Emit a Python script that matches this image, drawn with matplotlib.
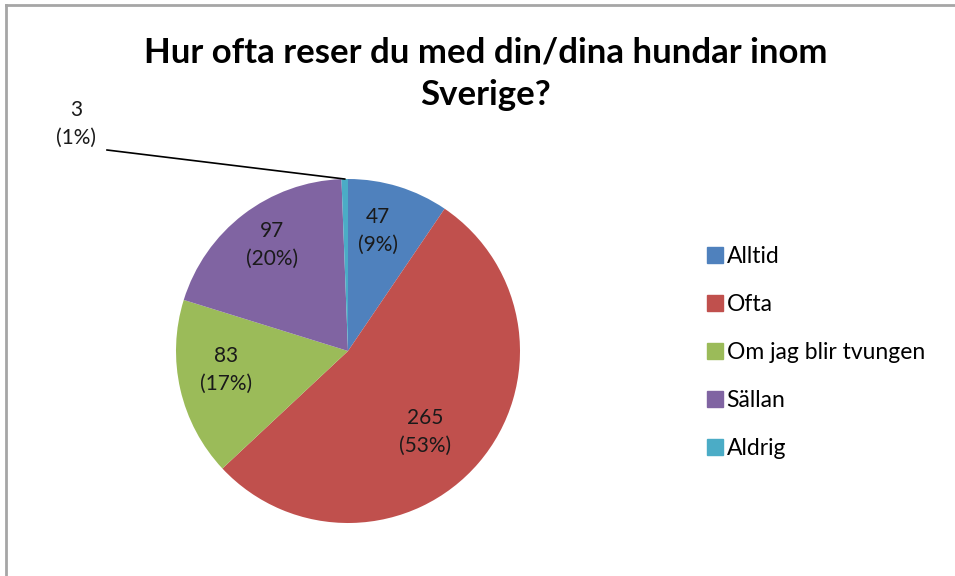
import matplotlib
matplotlib.use("Agg")
import matplotlib.pyplot as plt
from matplotlib.lines import Line2D
import numpy as np

categories = ["Alltid", "Ofta", "Om jag blir tvungen", "Sällan", "Aldrig"]
values = [47, 265, 83, 97, 3]
percents = [9, 53, 17, 20, 1]
colors = ["#4F81BD", "#C0504D", "#9BBB59", "#8064A2", "#4BACC6"]
title = "Hur ofta reser du med din/dina hundar inom\nSverige?"

plt.rcParams["font.family"] = ["Lato", "DejaVu Sans"]

W, H = 955, 576
fig = plt.figure(figsize=(W / 100, H / 100), dpi=100)
ax = fig.add_axes([0, 0, 1, 1])

cx, cy, R = 348, 576 - 351, 172
labels = [f"{v}\n({p}%)" for v, p in zip(values, percents)]
wedges, _ = ax.pie(values, colors=colors, startangle=90, counterclock=False,
                   center=(cx, cy), radius=R, frame=True,
                   wedgeprops=dict(linewidth=0))
ax.set_xlim(0, W)
ax.set_ylim(0, H)
ax.set_aspect("equal")
ax.axis("off")

dist = [0.72, 0.65, 0.72, 0.76]
ang_off = [3, -6, -4, -2]
for i, w in enumerate(wedges[:-1]):
    ang = np.deg2rad((w.theta1 + w.theta2) / 2 + ang_off[i])
    ax.text(cx + dist[i] * R * np.cos(ang), cy + dist[i] * R * np.sin(ang),
            labels[i], ha="center", va="center", fontsize=15,
            linespacing=1.5, color="#1a1a1a")

# small slice label with leader line
w = wedges[-1]
ang = np.deg2rad((w.theta1 + w.theta2) / 2)
px, py = cx + R * np.cos(ang), cy + R * np.sin(ang)
ax.plot([107, px], [576 - 150, py], color="black", lw=1.2)
ax.text(76, 576 - 124, labels[-1], ha="center", va="center", fontsize=15,
        linespacing=1.5, color="#1a1a1a")

ax.text(486, 576 - 74, title, ha="center", va="center", fontsize=25,
        fontweight="bold", linespacing=1.4, color="black")

handles = [plt.Rectangle((0, 0), 1, 1, color=c) for c in colors]
leg = fig.legend(handles, categories, loc="upper left",
                 bbox_to_anchor=(698 / W, 1 - 237 / H), frameon=False,
                 fontsize=16.5, handlelength=0.7, handleheight=0.7,
                 handletextpad=0.15, labelspacing=1.18, borderaxespad=0)

# chart border
ax.add_line(Line2D([6, 6], [0, 576 - 5], color="#A6A6A6", lw=2))
ax.add_line(Line2D([6, W], [576 - 5, 576 - 5], color="#A6A6A6", lw=2))

fig.savefig("out.png", dpi=100)
